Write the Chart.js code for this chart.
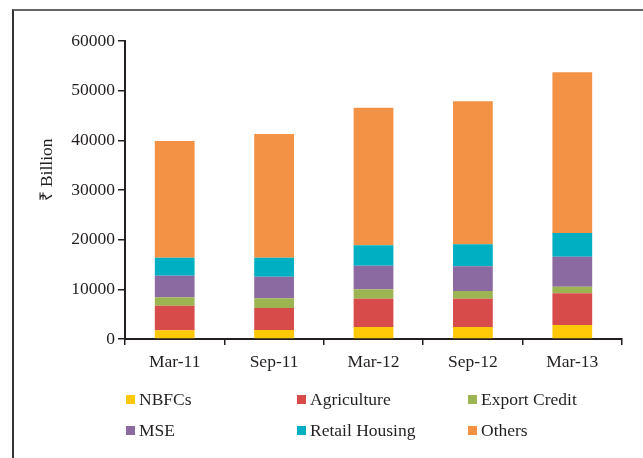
<!DOCTYPE html>
<html>
<head>
<meta charset="utf-8">
<script src="https://cdn.jsdelivr.net/npm/chart.js@4/dist/chart.umd.min.js"></script>
<style>
  html, body { margin: 0; padding: 0; background: #fff; }
  #wrap { position: relative; width: 643px; height: 458px; overflow: hidden; }
  #frame { position: absolute; left: 12px; top: 9px; right: -5px; bottom: -5px;
           border-left: 2px solid #333; border-top: 2px solid #666; }
  #legend { position: absolute; left: 126px; top: 384px; display: grid;
            grid-template-columns: 171px 171px 171px; grid-auto-rows: 31px;
            font: 17.5px "Liberation Serif", serif; color: #231f20; }
  #legend div { display: flex; align-items: center; }
  #legend span { display: inline-block; width: 9px; height: 9px; margin-right: 4px; }
</style>
</head>
<body>
<div id="wrap">
  <div id="frame"></div>
  <canvas id="loanChart" width="643" height="458"></canvas>
  <div id="legend"></div>
</div>
<script>
const periods = ['Mar-11', 'Sep-11', 'Mar-12', 'Sep-12', 'Mar-13'];
const nbfcs = [1750, 1810, 2420, 2420, 2820];
const agriculture = [4950, 4430, 5700, 5700, 6370];
const exportCredit = [1700, 1950, 1880, 1540, 1340];
const mse = [4350, 4350, 4760, 4970, 6040];
const retailHousing = [3630, 3830, 4100, 4430, 4770];
const others = [23500, 24900, 27700, 28790, 32350];
const yTicks = [0, 10000, 20000, 30000, 40000, 50000, 60000];

const ink = '#231f20';
const serif = '"Liberation Serif", serif';

// y axis title drawn by hand so it can sit a bit above the middle, like the original
const axisTitle = {
  id: 'axisTitle',
  afterDraw(chart) {
    const c = chart.ctx;
    c.save();
    c.translate(47, 170);
    c.rotate(-Math.PI / 2);
    c.font = '17.5px ' + serif;
    c.fillStyle = ink;
    c.textAlign = 'center';
    c.textBaseline = 'middle';
    c.fillText('₹ Billion', 0, 0);
    c.restore();
  }
};

const chart = new Chart(document.getElementById('loanChart'), {
  type: 'bar',
  data: {
    labels: periods,
    datasets: [
      { label: 'NBFCs', data: nbfcs, backgroundColor: '#ffc908' },
      { label: 'Agriculture', data: agriculture, backgroundColor: '#d84b4b' },
      { label: 'Export Credit', data: exportCredit, backgroundColor: '#9cb452' },
      { label: 'MSE', data: mse, backgroundColor: '#8a6aa1' },
      { label: 'Retail Housing', data: retailHousing, backgroundColor: '#00afc1' },
      { label: 'Others', data: others, backgroundColor: '#f39245' }
    ]
  },
  options: {
    responsive: false,
    animation: false,
    barPercentage: 0.4,
    categoryPercentage: 1.0,
    layout: { padding: { left: 0, top: 41, right: 21, bottom: 79 } },
    plugins: { legend: { display: false }, tooltip: { enabled: false } },
    scales: {
      x: {
        stacked: true,
        afterFit(s) { s.height = 40; },
        border: { color: ink, width: 2 },
        grid: { offset: true, drawOnChartArea: false, tickLength: 6, color: ink, lineWidth: 1.5 },
        ticks: { color: ink, font: { family: serif, size: 17.5 }, padding: 7 }
      },
      y: {
        stacked: true,
        min: 0,
        max: 60000,
        afterFit(s) { s.width = 125; },
        afterBuildTicks(s) { s.ticks = yTicks.map(v => ({ value: v })); },
        border: { color: ink, width: 2 },
        grid: { drawOnChartArea: false, tickLength: 7, color: ink, lineWidth: 1.5 },
        ticks: { color: ink, font: { family: serif, size: 17.5 }, padding: 3, callback: v => String(v) }
      }
    }
  },
  plugins: [axisTitle]
});

const legend = document.getElementById('legend');
chart.data.datasets.forEach(ds => {
  const item = document.createElement('div');
  item.innerHTML = `<span style="background:${ds.backgroundColor}"></span>${ds.label}`;
  legend.appendChild(item);
});
</script>
</body>
</html>
